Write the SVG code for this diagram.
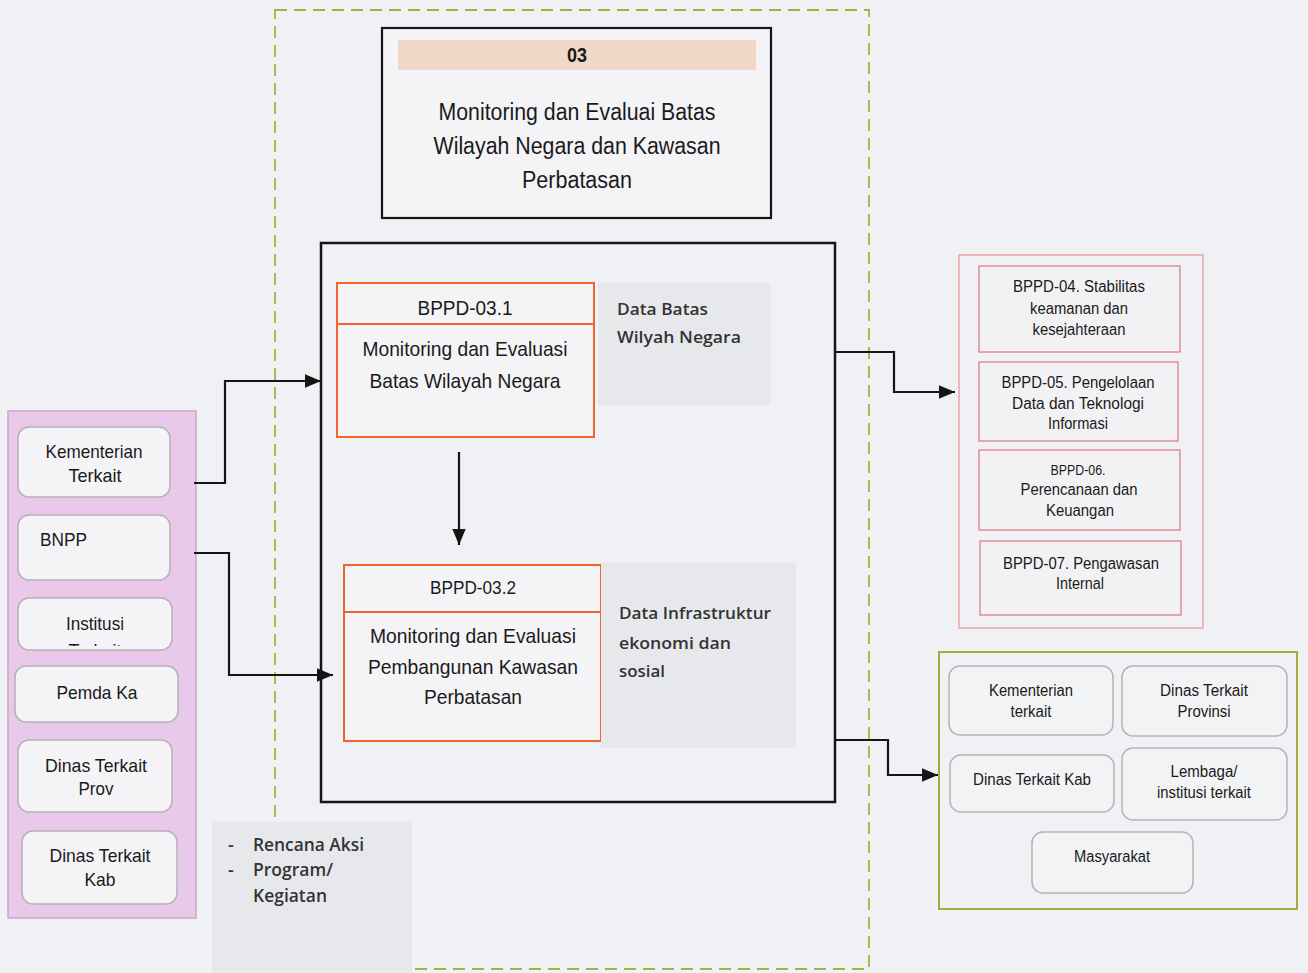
<svg xmlns="http://www.w3.org/2000/svg" width="1308" height="973" viewBox="0 0 1308 973">
  <defs>
    <marker id="arrowL" viewBox="0 0 12 10" refX="12" refY="5" markerWidth="16" markerHeight="14" markerUnits="userSpaceOnUse" orient="auto">
      <path d="M0,0 L12,5 L0,10 z" fill="#151515"/>
    </marker>
    <clipPath id="clipInst">
      <rect x="18" y="598" width="154" height="48"/>
    </clipPath>
  </defs>
  <style>
    .arial { font-family: "Liberation Sans", Arial, sans-serif; fill: #1a1a1a; }
    .cal { font-family: "Open Sans", "Liberation Sans", sans-serif; font-weight: 600; fill: #333; }
    .pill { fill: #f4f4f7; stroke: #b6b0b6; stroke-width: 1.5; }
    .gpill { fill: #f2f3f5; stroke: #b4b4b4; stroke-width: 1.5; }
    .rbox { fill: #f2f2f5; stroke: #e07c88; stroke-width: 1.3; }
    .obox { fill: #f4f4f7; stroke: #f0662a; stroke-width: 2; }
    .note { fill: #e7e8eb; }
    .conn { fill: none; stroke: #151515; stroke-width: 2.2; }
  </style>

  <!-- page background -->
  <rect x="0" y="0" width="1308" height="973" fill="#f0f1f5"/>

  <!-- dashed scope frame -->
  <rect id="scope" x="275" y="10" width="594" height="959" fill="none" stroke="#a6b040" stroke-width="1.8" stroke-dasharray="12,7"/>

  <!-- header: 03 -->
  <g id="header">
    <rect x="382" y="28" width="389" height="190" fill="#f4f4f7" stroke="#151515" stroke-width="2.2"/>
    <rect x="398" y="40" width="358" height="30" fill="#f1d7c8"/>
    <text class="arial" x="577" y="62" text-anchor="middle" font-size="20" font-weight="bold" textLength="20" lengthAdjust="spacingAndGlyphs">03</text>
    <text class="arial" x="577" y="120" text-anchor="middle" font-size="23" textLength="277" lengthAdjust="spacingAndGlyphs">Monitoring dan Evaluai Batas</text>
    <text class="arial" x="577" y="154" text-anchor="middle" font-size="23" textLength="287" lengthAdjust="spacingAndGlyphs">Wilayah Negara dan Kawasan</text>
    <text class="arial" x="577" y="188" text-anchor="middle" font-size="23" textLength="110" lengthAdjust="spacingAndGlyphs">Perbatasan</text>
  </g>

  <!-- process frame -->
  <g id="process">
    <rect x="321" y="243" width="514" height="559" fill="none" stroke="#151515" stroke-width="2.5"/>
  </g>

  <!-- BPPD-03.1 -->
  <g id="bppd-03-1">
    <rect class="obox" x="337" y="283" width="257" height="154"/>
    <line x1="337" y1="324" x2="594" y2="324" stroke="#f0662a" stroke-width="2"/>
    <text class="arial" x="465" y="315" text-anchor="middle" font-size="20" textLength="95" lengthAdjust="spacingAndGlyphs">BPPD-03.1</text>
    <text class="arial" x="465" y="356" text-anchor="middle" font-size="21" textLength="205" lengthAdjust="spacingAndGlyphs">Monitoring dan Evaluasi</text>
    <text class="arial" x="465" y="388" text-anchor="middle" font-size="21" textLength="191" lengthAdjust="spacingAndGlyphs">Batas Wilayah Negara</text>
  </g>

  <!-- data note 1 -->
  <g id="data-batas">
    <rect class="note" x="598" y="283" width="173" height="122"/>
    <text class="cal" x="617" y="315" font-size="17" textLength="91" lengthAdjust="spacingAndGlyphs">Data Batas</text>
    <text class="cal" x="617" y="343" font-size="17" textLength="124" lengthAdjust="spacingAndGlyphs">Wilyah Negara</text>
  </g>

  <!-- BPPD-03.2 -->
  <g id="bppd-03-2">
    <rect class="obox" x="344" y="565" width="257" height="176"/>
    <line x1="344" y1="612" x2="601" y2="612" stroke="#f0662a" stroke-width="2"/>
    <text class="arial" x="473" y="594" text-anchor="middle" font-size="19" textLength="86" lengthAdjust="spacingAndGlyphs">BPPD-03.2</text>
    <text class="arial" x="473" y="643" text-anchor="middle" font-size="21" textLength="206" lengthAdjust="spacingAndGlyphs">Monitoring dan Evaluasi</text>
    <text class="arial" x="473" y="674" text-anchor="middle" font-size="21" textLength="210" lengthAdjust="spacingAndGlyphs">Pembangunan Kawasan</text>
    <text class="arial" x="473" y="704" text-anchor="middle" font-size="21" textLength="98" lengthAdjust="spacingAndGlyphs">Perbatasan</text>
  </g>

  <!-- data note 2 -->
  <g id="data-infrastruktur">
    <rect class="note" x="601" y="562" width="195" height="186"/>
    <text class="cal" x="619" y="619" font-size="17" textLength="152" lengthAdjust="spacingAndGlyphs">Data Infrastruktur</text>
    <text class="cal" x="619" y="649" font-size="17" textLength="112" lengthAdjust="spacingAndGlyphs">ekonomi dan</text>
    <text class="cal" x="619" y="677" font-size="17" textLength="46" lengthAdjust="spacingAndGlyphs">sosial</text>
  </g>

  <!-- outputs note -->
  <g id="rencana">
    <rect class="note" x="212" y="822" width="200" height="151"/>
    <text class="cal" x="228" y="851" font-size="18">-</text>
    <text class="cal" x="253" y="851" font-size="18" textLength="111" lengthAdjust="spacingAndGlyphs">Rencana Aksi</text>
    <text class="cal" x="228" y="876" font-size="18">-</text>
    <text class="cal" x="253" y="876" font-size="18" textLength="80" lengthAdjust="spacingAndGlyphs">Program/</text>
    <text class="cal" x="253" y="902" font-size="18" textLength="74" lengthAdjust="spacingAndGlyphs">Kegiatan</text>
  </g>

  <!-- stakeholders (inputs) -->
  <g id="inputs">
    <rect x="8" y="411" width="188" height="507" fill="#e8c9e9" stroke="#c7a8c8" stroke-width="1.5"/>
  </g>
  <g id="in-kementerian">
    <rect class="pill" x="18" y="427" width="152" height="70" rx="11"/>
    <text class="arial" x="94" y="458" text-anchor="middle" font-size="19" textLength="97" lengthAdjust="spacingAndGlyphs">Kementerian</text>
    <text class="arial" x="95" y="482" text-anchor="middle" font-size="19" textLength="53" lengthAdjust="spacingAndGlyphs">Terkait</text>
  </g>
  <g id="in-bnpp">
    <rect class="pill" x="18" y="515" width="152" height="65" rx="11"/>
    <text class="arial" x="40" y="546" font-size="19" textLength="47" lengthAdjust="spacingAndGlyphs">BNPP</text>
  </g>
  <g id="in-institusi">
    <rect class="pill" x="18" y="598" width="154" height="52" rx="11"/>
    <text class="arial" x="95" y="630" text-anchor="middle" font-size="19" textLength="58" lengthAdjust="spacingAndGlyphs">Institusi</text>
    <!-- second line is cut off by the box edge -->
    <text class="arial" x="95" y="657" text-anchor="middle" font-size="19" textLength="53" lengthAdjust="spacingAndGlyphs" clip-path="url(#clipInst)">Terkait</text>
  </g>
  <g id="in-pemda">
    <rect class="pill" x="15" y="666" width="163" height="56" rx="11"/>
    <text class="arial" x="97" y="699" text-anchor="middle" font-size="19" textLength="81" lengthAdjust="spacingAndGlyphs">Pemda Ka</text>
  </g>
  <g id="in-dinas-prov">
    <rect class="pill" x="18" y="740" width="154" height="72" rx="11"/>
    <text class="arial" x="96" y="772" text-anchor="middle" font-size="19" textLength="102" lengthAdjust="spacingAndGlyphs">Dinas Terkait</text>
    <text class="arial" x="96" y="795" text-anchor="middle" font-size="19" textLength="35" lengthAdjust="spacingAndGlyphs">Prov</text>
  </g>
  <g id="in-dinas-kab">
    <rect class="pill" x="22" y="831" width="155" height="73" rx="11"/>
    <text class="arial" x="100" y="862" text-anchor="middle" font-size="19" textLength="101" lengthAdjust="spacingAndGlyphs">Dinas Terkait</text>
    <text class="arial" x="100" y="886" text-anchor="middle" font-size="19" textLength="31" lengthAdjust="spacingAndGlyphs">Kab</text>
  </g>

  <!-- related units -->
  <g id="units">
    <rect x="959" y="255" width="244" height="373" fill="none" stroke="#eaa2ab" stroke-width="1.5"/>
  </g>
  <g id="bppd-04">
    <rect class="rbox" x="979" y="266" width="201" height="86"/>
    <text class="arial" x="1079" y="292" text-anchor="middle" font-size="16" textLength="132" lengthAdjust="spacingAndGlyphs">BPPD-04. Stabilitas</text>
    <text class="arial" x="1079" y="314" text-anchor="middle" font-size="16" textLength="98" lengthAdjust="spacingAndGlyphs">keamanan dan</text>
    <text class="arial" x="1079" y="335" text-anchor="middle" font-size="16" textLength="93" lengthAdjust="spacingAndGlyphs">kesejahteraan</text>
  </g>
  <g id="bppd-05">
    <rect class="rbox" x="979" y="362" width="199" height="79"/>
    <text class="arial" x="1078" y="388" text-anchor="middle" font-size="16" textLength="153" lengthAdjust="spacingAndGlyphs">BPPD-05. Pengelolaan</text>
    <text class="arial" x="1078" y="409" text-anchor="middle" font-size="16" textLength="132" lengthAdjust="spacingAndGlyphs">Data dan  Teknologi</text>
    <text class="arial" x="1078" y="429" text-anchor="middle" font-size="16" textLength="60" lengthAdjust="spacingAndGlyphs">Informasi</text>
  </g>
  <g id="bppd-06">
    <rect class="rbox" x="979" y="450" width="201" height="80"/>
    <text class="arial" x="1078" y="475" text-anchor="middle" font-size="14" textLength="55" lengthAdjust="spacingAndGlyphs">BPPD-06.</text>
    <text class="arial" x="1079" y="495" text-anchor="middle" font-size="16" textLength="117" lengthAdjust="spacingAndGlyphs">Perencanaan dan</text>
    <text class="arial" x="1080" y="516" text-anchor="middle" font-size="16" textLength="68" lengthAdjust="spacingAndGlyphs">Keuangan</text>
  </g>
  <g id="bppd-07">
    <rect class="rbox" x="980" y="541" width="201" height="74"/>
    <text class="arial" x="1081" y="569" text-anchor="middle" font-size="16" textLength="156" lengthAdjust="spacingAndGlyphs">BPPD-07. Pengawasan</text>
    <text class="arial" x="1080" y="589" text-anchor="middle" font-size="16" textLength="48" lengthAdjust="spacingAndGlyphs">Internal</text>
  </g>

  <!-- stakeholders (users) -->
  <g id="users">
    <rect x="939" y="652" width="358" height="257" fill="none" stroke="#a6ad3a" stroke-width="2"/>
  </g>
  <g id="out-kementerian">
    <rect class="gpill" x="949" y="666" width="164" height="69" rx="11"/>
    <text class="arial" x="1031" y="696" text-anchor="middle" font-size="16" textLength="84" lengthAdjust="spacingAndGlyphs">Kementerian</text>
    <text class="arial" x="1031" y="717" text-anchor="middle" font-size="16" textLength="41" lengthAdjust="spacingAndGlyphs">terkait</text>
  </g>
  <g id="out-dinas-prov">
    <rect class="gpill" x="1122" y="666" width="165" height="70" rx="11"/>
    <text class="arial" x="1204" y="696" text-anchor="middle" font-size="16" textLength="88" lengthAdjust="spacingAndGlyphs">Dinas Terkait</text>
    <text class="arial" x="1204" y="717" text-anchor="middle" font-size="16" textLength="53" lengthAdjust="spacingAndGlyphs">Provinsi</text>
  </g>
  <g id="out-dinas-kab">
    <rect class="gpill" x="950" y="755" width="164" height="57" rx="11"/>
    <text class="arial" x="1032" y="785" text-anchor="middle" font-size="16" textLength="118" lengthAdjust="spacingAndGlyphs">Dinas Terkait Kab</text>
  </g>
  <g id="out-lembaga">
    <rect class="gpill" x="1122" y="748" width="165" height="72" rx="11"/>
    <text class="arial" x="1204" y="777" text-anchor="middle" font-size="16" textLength="67" lengthAdjust="spacingAndGlyphs">Lembaga/</text>
    <text class="arial" x="1204" y="798" text-anchor="middle" font-size="16" textLength="94" lengthAdjust="spacingAndGlyphs">institusi terkait</text>
  </g>
  <g id="out-masyarakat">
    <rect class="gpill" x="1032" y="832" width="161" height="61" rx="11"/>
    <text class="arial" x="1112" y="862" text-anchor="middle" font-size="16" textLength="76" lengthAdjust="spacingAndGlyphs">Masyarakat</text>
  </g>

  <!-- connectors -->
  <g id="connectors">
    <polyline class="conn" points="194,483 225,483 225,381 321,381" marker-end="url(#arrowL)"/>
    <polyline class="conn" points="194,553 229,553 229,675 333,675" marker-end="url(#arrowL)"/>
    <polyline class="conn" points="459,452 459,545" marker-end="url(#arrowL)"/>
    <polyline class="conn" points="835,352 894,352 894,392 955,392" marker-end="url(#arrowL)"/>
    <polyline class="conn" points="835,740 888,740 888,775 938,775" marker-end="url(#arrowL)"/>
  </g>
</svg>
